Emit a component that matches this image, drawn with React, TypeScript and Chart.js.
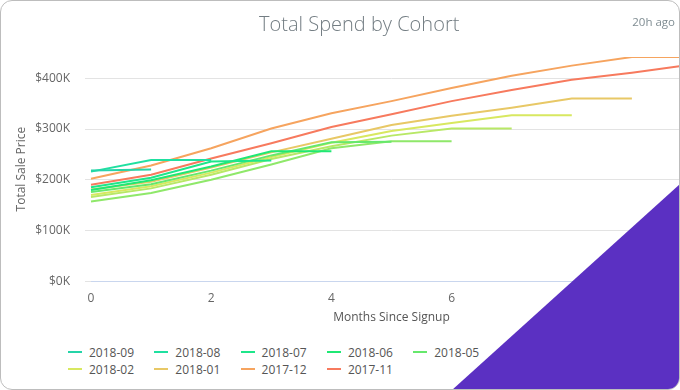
import React, { useEffect, useRef } from 'react';
import { Chart, registerables } from 'chart.js';

Chart.register(...registerables);

// ---- data ----
const MONTHS = [0, 1, 2, 3, 4, 5, 6, 7, 8, 9, 10];
const COHORTS = ['2018-09', '2018-08', '2018-07', '2018-06', '2018-05', '2018-04', '2018-03', '2018-02', '2018-01', '2017-12', '2017-11'];
const COLORS = ['#25d4a8', '#1fe0a0', '#1ee68a', '#1fe874', '#66e86c', '#8fe86a', '#b8e866', '#d8e860', '#e8c866', '#f6a45f', '#f77a5e'];

const S_2018_09 = [218000, 220000];
const S_2018_08 = [216000, 239000, 239000];
const S_2018_07 = [185000, 204000, 236000, 238000];
const S_2018_06 = [180000, 199000, 226000, 256000, 256000];
const S_2018_05 = [176000, 191000, 218000, 248000, 274000, 275000];
const S_2018_04 = [157000, 174000, 200000, 230000, 262000, 276000, 276000];
const S_2018_03 = [166000, 183000, 210000, 241000, 266000, 287000, 301000, 301000];
const S_2018_02 = [170000, 187000, 214000, 245000, 273000, 296000, 312000, 327000, 327000];
const S_2018_01 = [181000, 196000, 224000, 254000, 281000, 308000, 326000, 342000, 360000, 360000];
const S_2017_12 = [202000, 228000, 262000, 301000, 331000, 355000, 381000, 405000, 425000, 442000, 442000];
const S_2017_11 = [190000, 210000, 242000, 272000, 304000, 329000, 355000, 377000, 397000, 411000, 427000];

const SERIES = [S_2018_09, S_2018_08, S_2018_07, S_2018_06, S_2018_05, S_2018_04, S_2018_03, S_2018_02, S_2018_01, S_2017_12, S_2017_11];
const Y_TICKS = [0, 100000, 200000, 300000, 400000];

const FONT = "'Open Sans', 'Noto Sans', sans-serif";

export default function App() {
  const canvasRef = useRef<HTMLCanvasElement | null>(null);

  useEffect(() => {
    document.body.style.margin = '0';
    const ctx = canvasRef.current;
    if (!ctx) return;
    const yMax = Math.max(...SERIES.map((s) => Math.max(...s)));
    const chart = new Chart(ctx, {
      type: 'line',
      data: {
        labels: MONTHS.map(String),
        datasets: COHORTS.map((name, i) => ({
          label: name,
          data: SERIES[i],
          borderColor: COLORS[i],
          backgroundColor: COLORS[i],
          borderWidth: 2,
          pointRadius: 0,
          pointHoverRadius: 0,
          tension: 0,
          fill: false,
        })),
      },
      options: {
        responsive: false,
        animation: false,
        devicePixelRatio: 1,
        layout: { padding: { left: 10, top: 57, right: 9, bottom: 4 } },
        plugins: {
          legend: { display: false },
          title: { display: false },
          tooltip: { enabled: false },
        },
        scales: {
          x: {
            type: 'category',
            offset: false,
            grid: { display: false, drawTicks: true, tickLength: 9 },
            border: { display: true, color: '#c9d6ee', width: 1 },
            ticks: {
              padding: 1,
              maxRotation: 0,
              autoSkip: false,
              color: '#666',
              font: { family: FONT, size: 12 },
              callback: (v: any) => (Number(v) % 2 === 0 ? String(MONTHS[Number(v)]) : ''),
            },
            title: {
              display: true,
              text: 'Months Since Signup',
              color: '#555',
              font: { family: FONT, size: 12 },
              padding: { top: 4, bottom: 4 },
            },
          },
          y: {
            type: 'linear',
            min: 0,
            max: yMax,
            grid: { color: '#e3e3e3', drawTicks: true, tickLength: 6 },
            border: { display: false },
            afterBuildTicks: (axis: any) => {
              axis.ticks = Y_TICKS.map((v) => ({ value: v }));
            },
            afterFit: (axis: any) => {
              axis.width = 81;
            },
            ticks: {
              padding: 15,
              color: '#666',
              font: { family: FONT, size: 12 },
              callback: (v: any) => '$' + Number(v) / 1000 + 'K',
            },
            title: {
              display: true,
              text: 'Total Sale Price',
              color: '#666',
              font: { family: FONT, size: 12 },
              padding: { top: 4, bottom: 4 },
            },
          },
        },
      },
    });
    return () => chart.destroy();
  }, []);

  const legendItems = COHORTS.map((name, i) => {
    const row = i < 7 ? 0 : 1;
    const col = i < 7 ? i : i - 7;
    return (
      <div
        key={name}
        style={{
          position: 'absolute',
          left: 67 + col * 86.3,
          top: row === 0 ? 343 : 360,
          height: 16,
          display: 'flex',
          alignItems: 'center',
          whiteSpace: 'nowrap',
          font: `12px ${FONT}`,
          color: '#555',
        }}
      >
        <span style={{ display: 'inline-block', width: 14, height: 2, background: COLORS[i], marginRight: 7 }} />
        <span>{name}</span>
      </div>
    );
  });

  return (
    <div
      style={{
        position: 'fixed',
        left: 0,
        top: 0,
        width: 680,
        height: 390,
        boxSizing: 'border-box',
        border: '1px solid #bdbdbd',
        borderRadius: 12,
        overflow: 'hidden',
        background: '#fff',
      }}
    >
      <canvas
        ref={canvasRef}
        width={701}
        height={333}
        style={{ position: 'absolute', left: -1, top: -1, width: 701, height: 333 }}
      />
      <div
        style={{
          position: 'absolute',
          left: 258,
          top: 9,
          lineHeight: '26px',
          font: `300 20px ${FONT}`,
          color: '#737d83',
          whiteSpace: 'nowrap',
        }}
      >
        Total Spend by Cohort
      </div>
      <div
        style={{
          position: 'absolute',
          right: 4,
          top: 13,
          lineHeight: '16px',
          font: `11.5px ${FONT}`,
          color: '#7f8c92',
          whiteSpace: 'nowrap',
        }}
      >
        20h ago
      </div>
      {legendItems}
      <div
        style={{
          position: 'absolute',
          left: 0,
          top: 0,
          width: 680,
          height: 390,
          background: '#5b30c2',
          clipPath: 'polygon(451px 389px, 679px 183px, 679px 389px)',
        }}
      />
    </div>
  );
}
